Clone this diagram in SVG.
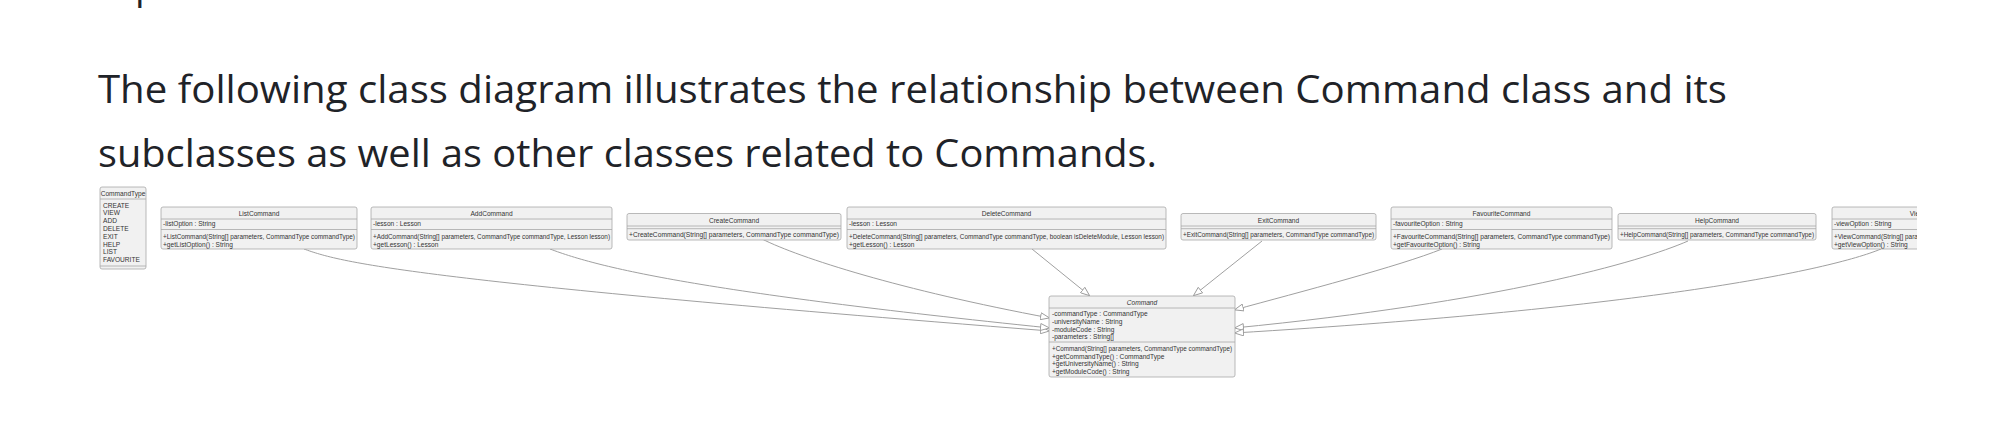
<svg xmlns="http://www.w3.org/2000/svg" width="2000" height="422" viewBox="0 0 2000 422">
<style>
.h{font-family:"Open Sans","Noto Sans",sans-serif;font-size:38px;fill:#1f2328}
.box{fill:#f1f1f1;stroke:#a8a8a8;stroke-width:0.8}
.sep{stroke:#a8a8a8;stroke-width:0.8}
.t{font-family:"Liberation Sans",Arial,sans-serif;font-size:6.6px;fill:#333}
.c{text-anchor:middle}
.i{font-style:italic}
.edge{fill:none;stroke:#a0a0a0;stroke-width:1;marker-end:url(#tri)}
</style>
<defs>
<marker id="tri" viewBox="0 0 10 8" refX="10" refY="4" markerWidth="10" markerHeight="8" markerUnits="userSpaceOnUse" orient="auto">
<path d="M0.5,0.5 L9.5,4 L0.5,7.5 Z" fill="#ffffff" stroke="#999999" stroke-width="0.9"/>
</marker>
<clipPath id="clipR"><rect x="0" y="0" width="1917" height="422"/></clipPath>
</defs>
<rect width="2000" height="422" fill="#ffffff"/>
<text class="h" x="135" y="-1.5">p</text>
<text class="h" x="98" y="103" textLength="1629" lengthAdjust="spacingAndGlyphs">The following class diagram illustrates the relationship between Command class and its</text>
<text class="h" x="98" y="167" textLength="1059" lengthAdjust="spacingAndGlyphs">subclasses as well as other classes related to Commands.</text>

<g id="connectors">
<path class="edge" d="M304,249 C340,262 400,280 1050,331"/>
<path class="edge" d="M550,249 C600,268 700,292 1050,328"/>
<path class="edge" d="M762,239 C800,258 900,290 1050,318"/>
<path class="edge" d="M1032,249 L1090,296"/>
<path class="edge" d="M1262,241 L1193,296"/>
<path class="edge" d="M1442,249 C1400,266 1300,292 1234,310"/>
<path class="edge" d="M1688,241 C1640,262 1500,302 1234,328"/>
<path class="edge" d="M1881,249 C1830,270 1650,308 1234,333"/>
</g>

<g id="CommandType">
<rect class="box" x="100" y="187" width="46" height="82" rx="2"/>
<line class="sep" x1="100" y1="199" x2="146" y2="199"/>
<line class="sep" x1="100" y1="266" x2="146" y2="266"/>
<text class="t c" x="123" y="195.5">CommandType</text>
<text class="t" x="103" y="207.5">CREATE</text>
<text class="t" x="103" y="215.3">VIEW</text>
<text class="t" x="103" y="223.1">ADD</text>
<text class="t" x="103" y="230.9">DELETE</text>
<text class="t" x="103" y="238.7">EXIT</text>
<text class="t" x="103" y="246.5">HELP</text>
<text class="t" x="103" y="254.3">LIST</text>
<text class="t" x="103" y="262.1">FAVOURITE</text>
</g>

<g id="ListCommand">
<rect class="box" x="161" y="207" width="196" height="42" rx="2"/>
<line class="sep" x1="161" y1="219" x2="357" y2="219"/>
<line class="sep" x1="161" y1="229.5" x2="357" y2="229.5"/>
<text class="t c" x="259" y="215.8">ListCommand</text>
<text class="t" x="163" y="226.3">-listOption : String</text>
<text class="t" x="163" y="239.3" textLength="192" lengthAdjust="spacingAndGlyphs">+ListCommand(String[] parameters, CommandType commandType)</text>
<text class="t" x="163" y="246.5">+getListOption() : String</text>
</g>

<g id="AddCommand">
<rect class="box" x="371" y="207" width="241" height="42" rx="2"/>
<line class="sep" x1="371" y1="219" x2="612" y2="219"/>
<line class="sep" x1="371" y1="229.5" x2="612" y2="229.5"/>
<text class="t c" x="491.5" y="215.8">AddCommand</text>
<text class="t" x="373" y="226.3">-lesson : Lesson</text>
<text class="t" x="373" y="239.3" textLength="237" lengthAdjust="spacingAndGlyphs">+AddCommand(String[] parameters, CommandType commandType, Lesson lesson)</text>
<text class="t" x="373" y="246.5">+getLesson() : Lesson</text>
</g>

<g id="CreateCommand">
<rect class="box" x="627" y="213.5" width="214" height="26.5" rx="2"/>
<line class="sep" x1="627" y1="226" x2="841" y2="226"/>
<line class="sep" x1="627" y1="228.7" x2="841" y2="228.7"/>
<text class="t c" x="734" y="222.5">CreateCommand</text>
<text class="t" x="629" y="236.8" textLength="210" lengthAdjust="spacingAndGlyphs">+CreateCommand(String[] parameters, CommandType commandType)</text>
</g>

<g id="DeleteCommand">
<rect class="box" x="847" y="207" width="319" height="42" rx="2"/>
<line class="sep" x1="847" y1="219" x2="1166" y2="219"/>
<line class="sep" x1="847" y1="229.5" x2="1166" y2="229.5"/>
<text class="t c" x="1006.5" y="215.8">DeleteCommand</text>
<text class="t" x="849" y="226.3">-lesson : Lesson</text>
<text class="t" x="849" y="239.3" textLength="315" lengthAdjust="spacingAndGlyphs">+DeleteCommand(String[] parameters, CommandType commandType, boolean isDeleteModule, Lesson lesson)</text>
<text class="t" x="849" y="246.5">+getLesson() : Lesson</text>
</g>

<g id="ExitCommand">
<rect class="box" x="1181" y="213.5" width="195" height="26.5" rx="2"/>
<line class="sep" x1="1181" y1="226" x2="1376" y2="226"/>
<line class="sep" x1="1181" y1="228.7" x2="1376" y2="228.7"/>
<text class="t c" x="1278.5" y="222.5">ExitCommand</text>
<text class="t" x="1183" y="236.8" textLength="191" lengthAdjust="spacingAndGlyphs">+ExitCommand(String[] parameters, CommandType commandType)</text>
</g>

<g id="FavouriteCommand">
<rect class="box" x="1391" y="207" width="221" height="42" rx="2"/>
<line class="sep" x1="1391" y1="219" x2="1612" y2="219"/>
<line class="sep" x1="1391" y1="229.5" x2="1612" y2="229.5"/>
<text class="t c" x="1501.5" y="215.8">FavouriteCommand</text>
<text class="t" x="1393" y="226.3">-favouriteOption : String</text>
<text class="t" x="1393" y="239.3" textLength="217" lengthAdjust="spacingAndGlyphs">+FavouriteCommand(String[] parameters, CommandType commandType)</text>
<text class="t" x="1393" y="246.5">+getFavouriteOption() : String</text>
</g>

<g id="HelpCommand">
<rect class="box" x="1618" y="213.5" width="198" height="26.5" rx="2"/>
<line class="sep" x1="1618" y1="226" x2="1816" y2="226"/>
<line class="sep" x1="1618" y1="228.7" x2="1816" y2="228.7"/>
<text class="t c" x="1717" y="222.5">HelpCommand</text>
<text class="t" x="1620" y="236.8" textLength="194" lengthAdjust="spacingAndGlyphs">+HelpCommand(String[] parameters, CommandType commandType)</text>
</g>

<g id="ViewCommand" clip-path="url(#clipR)">
<rect class="box" x="1832" y="207" width="200" height="42" rx="2"/>
<line class="sep" x1="1832" y1="219" x2="2032" y2="219"/>
<line class="sep" x1="1832" y1="229.5" x2="2032" y2="229.5"/>
<text class="t c" x="1932" y="215.8">ViewCommand</text>
<text class="t" x="1834" y="226.3">-viewOption : String</text>
<text class="t" x="1834" y="239.3" textLength="196" lengthAdjust="spacingAndGlyphs">+ViewCommand(String[] parameters, CommandType commandType)</text>
<text class="t" x="1834" y="246.5">+getViewOption() : String</text>
</g>

<g id="Command">
<rect class="box" x="1049" y="296" width="186" height="81" rx="2"/>
<line class="sep" x1="1049" y1="308" x2="1235" y2="308"/>
<line class="sep" x1="1049" y1="342" x2="1235" y2="342"/>
<text class="t c i" x="1142" y="304.8">Command</text>
<text class="t" x="1052" y="316.3">-commandType : CommandType</text>
<text class="t" x="1052" y="324">-universityName : String</text>
<text class="t" x="1052" y="331.6">-moduleCode : String</text>
<text class="t" x="1052" y="339.2">-parameters : String[]</text>
<text class="t" x="1052" y="351.2" textLength="180" lengthAdjust="spacingAndGlyphs">+Command(String[] parameters, CommandType commandType)</text>
<text class="t" x="1052" y="358.8">+getCommandType() : CommandType</text>
<text class="t" x="1052" y="366.4">+getUniversityName() : String</text>
<text class="t" x="1052" y="374">+getModuleCode() : String</text>
</g>
</svg>
